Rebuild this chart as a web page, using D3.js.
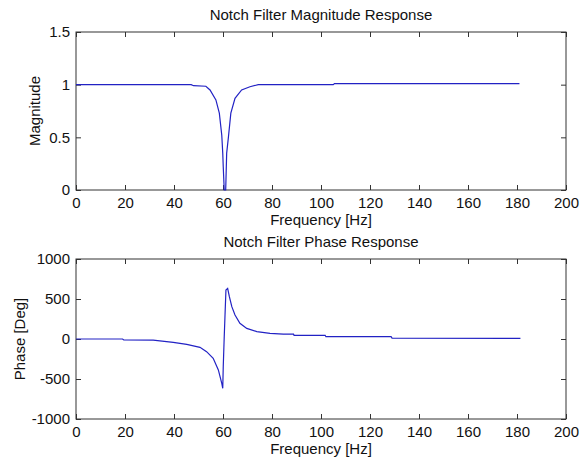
<!DOCTYPE html>
<html>
<head>
<meta charset="utf-8">
<script src="https://cdn.jsdelivr.net/npm/d3@7.9.0/dist/d3.min.js"></script>
<style>
  body { margin: 0; background: #fff; }
  svg text { font-family: "Liberation Sans", Arial, sans-serif; fill: #111; }
</style>
</head>
<body>
<svg id="chart" width="583" height="460"></svg>
<script>
// magnitude response
const magFreq = [0, 47, 48, 53, 54.7, 57.1, 58.5, 59.5, 59.9, 60.1, 60.5, 61.1, 61.5, 62.2, 63.2, 64.9, 67.6, 71, 74.4, 105, 105.5, 181];
const magValues = [1.0, 1.0, 0.99, 0.985, 0.95, 0.855, 0.73, 0.52, 0.35, 0.22, 0, 0, 0.35, 0.5, 0.73, 0.87, 0.95, 0.98, 1.0, 1.0, 1.01, 1.01];

// phase response (degrees)
const phaseFreq = [0, 19, 19.5, 31.5, 39.7, 45.2, 50.6, 53.3, 56, 58.1, 59.5, 59.9, 60.1, 60.5, 60.8, 61.2, 61.9, 62.6, 63.6, 64.9, 66.9, 69.7, 73.8, 79.2, 84.6, 88.8, 89, 101.7, 102, 128.6, 129, 181.4];
const phaseValues = [0, 0, -12, -15, -42, -67, -104, -158, -242, -387, -554, -617, -346, 29, 279, 612, 633, 529, 404, 300, 196, 133, 92, 71, 60, 60, 46, 46, 29, 29, 10, 8];

const freqTicks = d3.range(0, 201, 20);
const magTicks = [0, 0.5, 1, 1.5];
const phaseTicks = [-1000, -500, 0, 500, 1000];

const svg = d3.select('#chart');
const left = 76, right = 566;
const lineColor = '#2222c4';
const axisColor = '#333';
const fontSize = 15;

const x = d3.scaleLinear().domain([0, 200]).range([left, right]);

function drawPanel(opts) {
  const y = d3.scaleLinear().domain(opts.yDomain).range([opts.bottom, opts.top]);
  const g = svg.append('g');

  // inward ticks on all four sides, like a matlab box
  g.append('g')
    .attr('transform', `translate(0,${opts.bottom})`)
    .call(d3.axisBottom(x).tickValues(freqTicks).tickSize(-5).tickPadding(7).tickFormat(d => String(d)));
  g.append('g')
    .attr('transform', `translate(0,${opts.top})`)
    .call(d3.axisTop(x).tickValues(freqTicks).tickSize(-5).tickFormat(''));
  g.append('g')
    .attr('transform', `translate(${left},0)`)
    .call(d3.axisLeft(y).tickValues(opts.yTicks).tickSize(-5).tickPadding(6).tickFormat(d => String(d)));
  g.append('g')
    .attr('transform', `translate(${right},0)`)
    .call(d3.axisRight(y).tickValues(opts.yTicks).tickSize(-5).tickFormat(''));

  g.selectAll('.domain').remove();
  g.selectAll('.tick line').attr('stroke', axisColor);
  g.selectAll('.tick text').attr('font-size', fontSize).attr('fill', '#111')
    .style('font-family', '"Liberation Sans", Arial, sans-serif');

  g.append('rect')
    .attr('x', left).attr('y', opts.top)
    .attr('width', right - left).attr('height', opts.bottom - opts.top)
    .attr('fill', 'none').attr('stroke', axisColor).attr('stroke-width', 1);

  const pts = opts.xs.map((f, i) => [f, opts.ys[i]]);
  g.append('path')
    .datum(pts)
    .attr('fill', 'none')
    .attr('stroke', lineColor)
    .attr('stroke-width', 1.2)
    .attr('d', d3.line().x(d => x(d[0])).y(d => y(d[1])));

  g.append('text')
    .attr('x', (left + right) / 2).attr('y', opts.top - 12)
    .attr('text-anchor', 'middle').attr('font-size', fontSize)
    .text(opts.title);
  g.append('text')
    .attr('x', (left + right) / 2).attr('y', opts.bottom + 35)
    .attr('text-anchor', 'middle').attr('font-size', fontSize)
    .text('Frequency [Hz]');
  g.append('text')
    .attr('transform', `translate(${opts.ylabelX},${(opts.top + opts.bottom) / 2}) rotate(-90)`)
    .attr('text-anchor', 'middle').attr('font-size', fontSize)
    .text(opts.ylabel);
}

drawPanel({
  top: 32, bottom: 190,
  yDomain: [0, 1.5], yTicks: magTicks,
  xs: magFreq, ys: magValues,
  title: 'Notch Filter Magnitude Response',
  ylabel: 'Magnitude', ylabelX: 40
});

drawPanel({
  top: 259, bottom: 419,
  yDomain: [-1000, 1000], yTicks: phaseTicks,
  xs: phaseFreq, ys: phaseValues,
  title: 'Notch Filter Phase Response',
  ylabel: 'Phase [Deg]', ylabelX: 25
});
</script>
</body>
</html>
